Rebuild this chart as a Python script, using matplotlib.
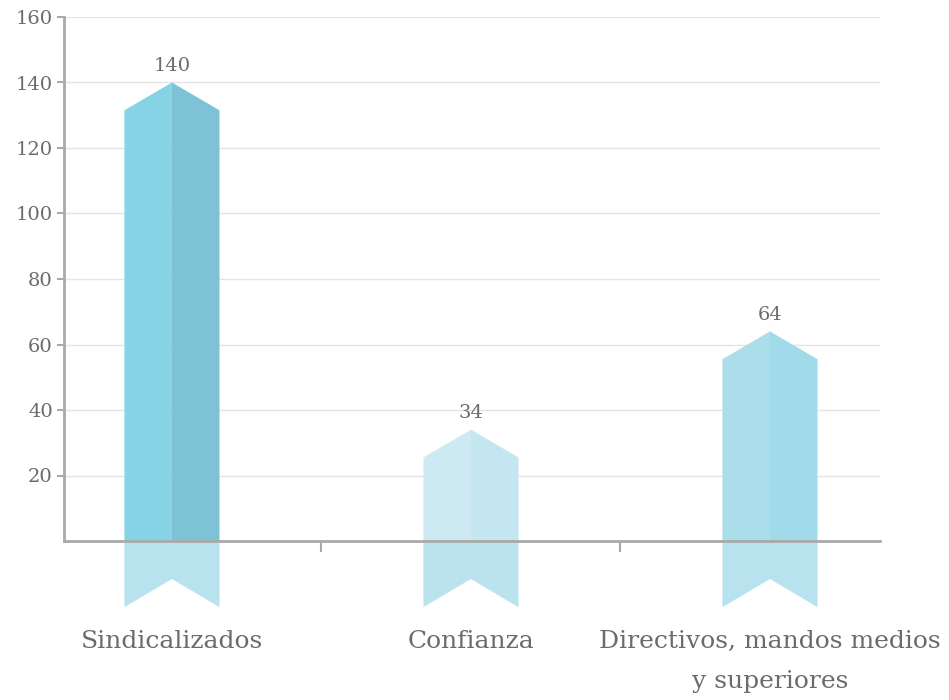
import matplotlib
matplotlib.use("Agg")
import matplotlib.pyplot as plt
from matplotlib.patches import Polygon

categories = ["Sindicalizados", "Confianza", "Directivos, mandos medios\ny superiores"]
values = [140, 34, 64]
left_colors = ["#87D3E6", "#CDEAF2", "#ABDEEA"]
right_colors = ["#7DC3D5", "#C4E6F0", "#A1DAE8"]
tail_colors = ["#B8E2EE", "#BAE3EE", "#B8E2EE"]
yticks = [20, 40, 60, 80, 100, 120, 140, 160]

plt.rcParams["font.family"] = ["DejaVu Serif"]
text_color = "#6b6b6b"

fig = plt.figure(figsize=(9.49, 7.0), dpi=100)
ax = fig.add_axes([64 / 949, 1 - 541 / 700, 816 / 949, 524 / 700])
ax.set_xlim(-0.361, 2.368)
ax.set_ylim(0, 160)

# grid
for y in yticks:
    ax.axhline(y, color="#e4e4e4", lw=1, zorder=0)

half = 0.159
drop = 8.5       # shoulder drop of arrow head (data units)
tail = 20.2      # depth of ribbon tail below axis
notch = 11.6

for i, v in enumerate(values):
    x0, x1 = i - half, i + half
    shoulder = v - drop
    ax.add_patch(Polygon([(x0, 0), (x0, shoulder), (i, v), (i, 0)],
                         closed=True, facecolor=left_colors[i], edgecolor="none", zorder=2))
    ax.add_patch(Polygon([(i, 0), (i, v), (x1, shoulder), (x1, 0)],
                         closed=True, facecolor=right_colors[i], edgecolor="none", zorder=2))
    ax.add_patch(Polygon([(x0, 0), (x1, 0), (x1, -tail), (i, -notch), (x0, -tail)],
                         closed=True, facecolor=tail_colors[i], edgecolor="none",
                         zorder=2, clip_on=False))
    ax.text(i, v + 2.3, str(v), ha="center", va="bottom", fontsize=14, color=text_color)

for s in ["top", "right"]:
    ax.spines[s].set_visible(False)
for s in ["left", "bottom"]:
    ax.spines[s].set_color("#a9a9a9")
    ax.spines[s].set_linewidth(2)
    ax.spines[s].set_zorder(3)

ax.set_yticks(yticks)
ax.set_yticklabels([str(t) for t in yticks])
ax.tick_params(axis="y", length=5, width=1.5, color="#a9a9a9", labelsize=14,
               labelcolor=text_color, pad=3)

ax.set_xticks([0.5, 1.5])
ax.set_xticklabels([])
ax.tick_params(axis="x", which="major", length=8, width=1.5, color="#a9a9a9")
ax.set_xticks([0, 1, 2], minor=True)
ax.set_xticklabels(categories, minor=True)
ax.tick_params(axis="x", which="minor", length=0, pad=64, labelsize=18,
               labelcolor=text_color)
for lab in ax.get_xticklabels(minor=True):
    lab.set_va("top")
    lab.set_linespacing(1.95)

fig.savefig("out.png", dpi=100)
